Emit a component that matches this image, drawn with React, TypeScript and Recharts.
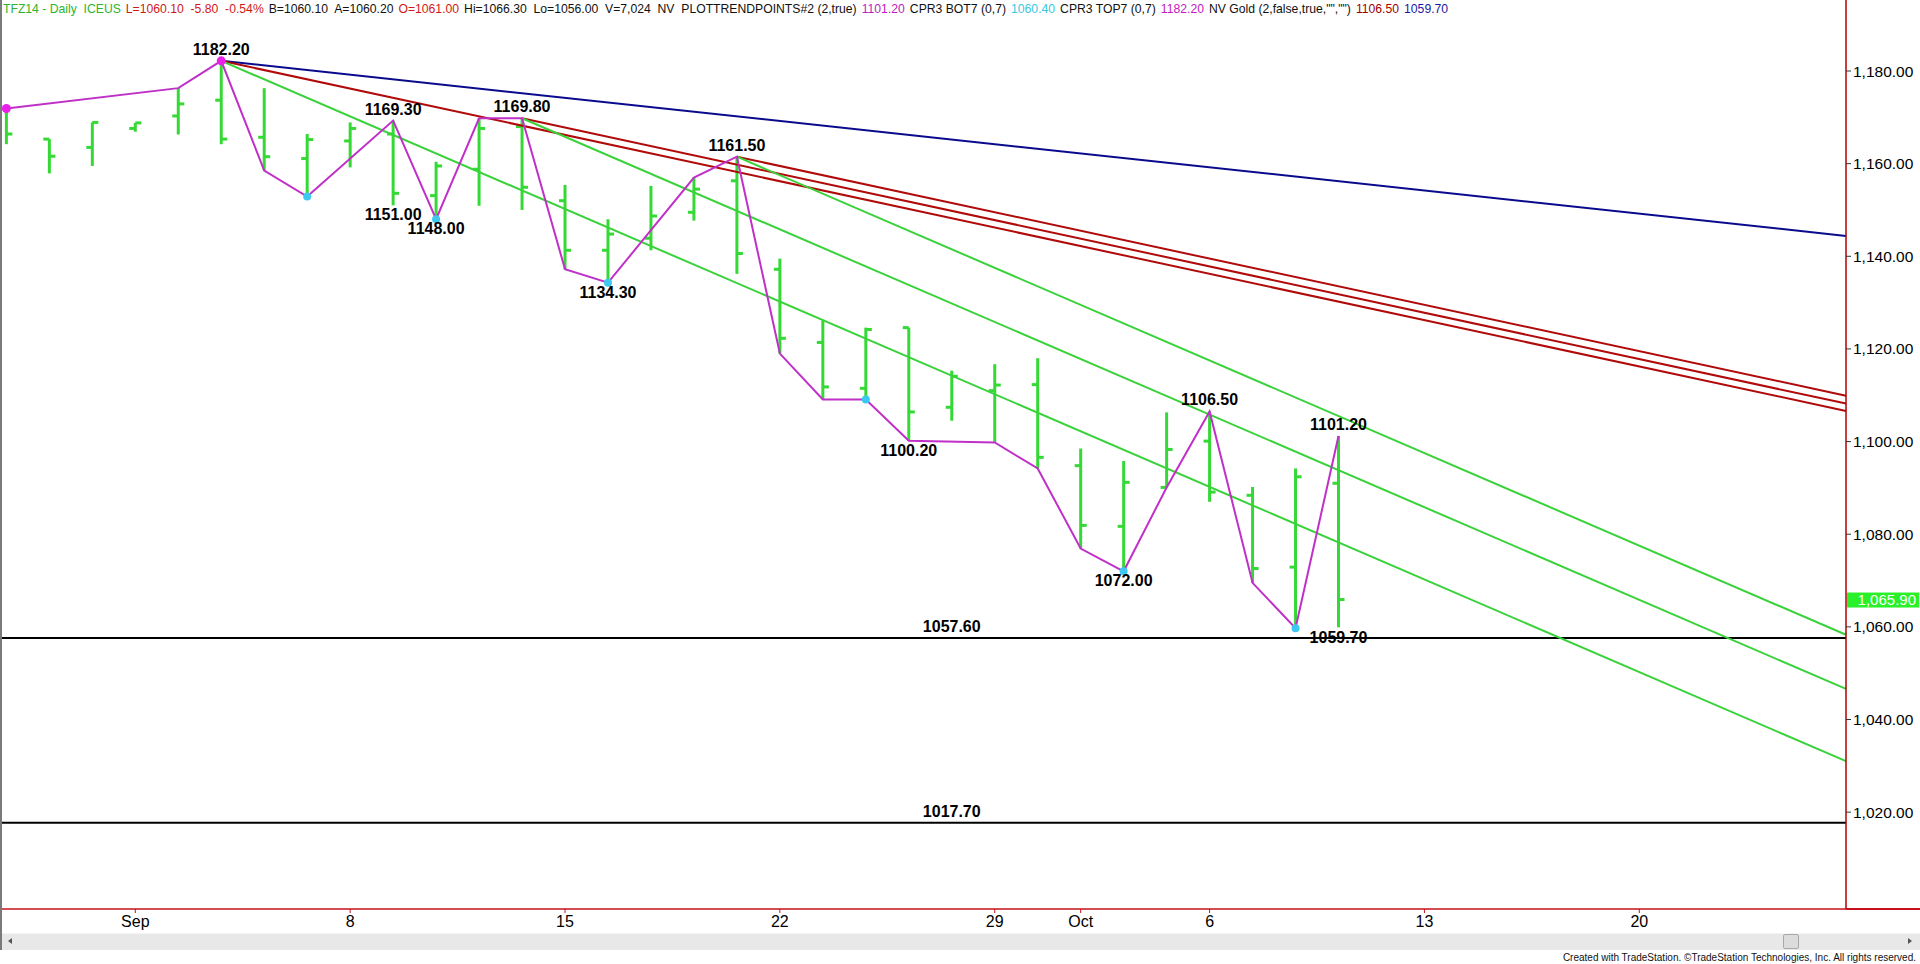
import React from "react";
import { ComposedChart, Line, Scatter, XAxis, YAxis, ReferenceLine, ReferenceDot } from "recharts";

const FONT = '"Liberation Sans", Arial, sans-serif';

// trading days shown as bars
const dates = [
  "Aug 27", "Aug 28", "Aug 29", "Sep 1", "Sep 2", "Sep 3", "Sep 4", "Sep 5",
  "Sep 8", "Sep 9", "Sep 10", "Sep 11", "Sep 12", "Sep 15", "Sep 16", "Sep 17",
  "Sep 18", "Sep 19", "Sep 22", "Sep 23", "Sep 24", "Sep 25", "Sep 26", "Sep 29",
  "Sep 30", "Oct 1", "Oct 2", "Oct 3", "Oct 6", "Oct 7", "Oct 8", "Oct 9",
];
const opens = [
  1171.5, 1165.3, 1163.5, 1167.6, 1170.3, 1173.7, 1165.7, 1161.1, 1164.9, 1166.4, 1153.1,
  1158.8, 1168.0, 1152.0, 1141.3, 1143.9, 1149.5, 1156.3, 1137.2, 1121.4, 1111.5, 1124.6,
  1107.4, 1111.0, 1112.3, 1094.8, 1081.7, 1090.1, 1100.1, 1088.4, 1072.9, 1091.0,
];
const highs = [
  1171.9, 1165.3, 1168.9, 1168.8, 1176.3, 1182.2, 1176.3, 1166.4, 1168.9, 1169.3, 1160.4,
  1169.8, 1169.8, 1155.4, 1148.0, 1155.2, 1157.0, 1161.5, 1139.5, 1126.1, 1124.6, 1124.6,
  1115.3, 1116.7, 1118.0, 1098.5, 1095.8, 1106.3, 1106.5, 1090.2, 1094.2, 1101.2,
];
const lows = [
  1164.2, 1157.9, 1159.5, 1166.9, 1166.3, 1164.2, 1158.5, 1152.9, 1159.2, 1151.0, 1148.0,
  1150.9, 1150.0, 1137.2, 1134.3, 1141.3, 1147.7, 1136.2, 1119.0, 1109.1, 1109.1, 1100.2,
  1104.5, 1099.8, 1094.2, 1076.9, 1072.0, 1090.1, 1087.0, 1069.5, 1059.7, 1059.9,
];
const closes = [
  1166.4, 1161.6, 1168.9, 1168.8, 1172.9, 1165.3, 1161.5, 1165.2, 1167.6, 1153.6, 1159.5,
  1167.6, 1154.9, 1141.3, 1144.8, 1148.7, 1154.5, 1140.6, 1122.3, 1111.8, 1124.2, 1106.4,
  1114.1, 1112.2, 1096.6, 1081.9, 1091.2, 1098.3, 1089.1, 1072.6, 1092.4, 1065.9,
];

// x axis labels (bar index -> label)
const tickIdx = [3, 8, 13, 18, 23, 25, 28, 33, 38];
const tickLabels = ["Sep", "8", "15", "22", "29", "Oct", "6", "13", "20"];
const yTicks = [1020, 1040, 1060, 1080, 1100, 1120, 1140, 1160, 1180];

// swing line (PLOTTRENDPOINTS)
const zigIdx = [0, 4, 5, 6, 7, 9, 10, 11, 12, 13, 14, 16, 17, 18, 19, 20, 21, 23, 24, 25, 26, 27, 28, 29, 30, 31];
const zigVal = [
  1171.9, 1176.3, 1182.2, 1158.5, 1152.9, 1169.3, 1148.0, 1169.8, 1169.8, 1137.2, 1134.3,
  1157.0, 1161.5, 1119.0, 1109.1, 1109.1, 1100.2, 1099.8, 1094.2, 1076.9, 1072.0, 1090.1,
  1106.5, 1069.5, 1059.7, 1101.2,
];
const lowDotIdx = [7, 10, 14, 20, 26, 30];
const lowDotVal = [1152.9, 1148.0, 1134.3, 1109.1, 1072.0, 1059.7];
const highDotIdx = [0, 5];
const highDotVal = [1171.9, 1182.2];

// pivot and level labels
const labelIdx = [5, 9, 9, 10, 12, 14, 17, 21, 26, 28, 31, 31, 22, 22];
const labelVal = [1182.2, 1169.3, 1151.0, 1148.0, 1169.8, 1134.3, 1161.5, 1100.2, 1072.0, 1106.5, 1101.2, 1059.7, 1057.6, 1017.7];
const labelPos = ["above", "above", "below", "below", "above", "below", "above", "below", "below", "above", "above", "below", "above", "above"];

// fan lines: start bar, start price, price at the right edge
const X_MIN = -0.102;
const X_END = 42.81;
const blueStart = [5];
const blueFrom = [1182.2];
const blueTo = [1144.4];
const redStart = [5, 12, 17];
const redFrom = [1182.2, 1169.8, 1161.5];
const redTo = [1106.6, 1108.2, 1109.9];
const greenStart = [5, 12, 17];
const greenFrom = [1182.2, 1169.8, 1161.5];
const greenTo = [1031.0, 1046.6, 1058.3];
const levels = [1057.6, 1017.7];
const lastClose = 1065.9;

const bars = dates.map((d, i) => ({ i, d, o: opens[i], h: highs[i], l: lows[i], c: closes[i] }));
const zigData = zigIdx.map((i, k) => ({ i, v: zigVal[k] }));
const lowDots = lowDotIdx.map((i, k) => ({ i, v: lowDotVal[k] }));
const highDots = highDotIdx.map((i, k) => ({ i, v: highDotVal[k] }));
const labels = labelIdx.map((i, k) => ({ i, v: labelVal[k], text: labelVal[k].toFixed(2), pos: labelPos[k] }));

const header = [
  { t: "TFZ14 - Daily  ICEUS", c: "#2db52d" },
  { t: "L=1060.10  -5.80  -0.54%", c: "#d01818" },
  { t: "B=1060.10  A=1060.20", c: "#111" },
  { t: "O=1061.00", c: "#d01818" },
  { t: "Hi=1066.30  Lo=1056.00  V=7,024  NV  PLOTTRENDPOINTS#2 (2,true)", c: "#111" },
  { t: "1101.20", c: "#c020c0" },
  { t: "CPR3 BOT7 (0,7)", c: "#111" },
  { t: "1060.40", c: "#3cc8e0" },
  { t: "CPR3 TOP7 (0,7)", c: "#111" },
  { t: "1182.20", c: "#c020c0" },
  { t: 'NV Gold (2,false,true,"","")', c: "#111" },
  { t: "1106.50", c: "#a00000" },
  { t: "1059.70", c: "#1a1aa0" },
];

const fmtPrice = (v: number) =>
  v.toLocaleString("en-US", { minimumFractionDigits: 2, maximumFractionDigits: 2 });

const GREEN = "#35d935";
const TICK = 0.14;

const renderLabel = (p: any) => (
  <text
    x={p.cx}
    y={p.cy + (p.payload.pos === "below" ? 15 : -6)}
    textAnchor="middle"
    fontFamily={FONT}
    fontSize={16}
    fontWeight="bold"
    fill="#000"
  >
    {p.payload.text}
  </text>
);

const renderPriceTag = (p: any) => (
  <g>
    <rect x={p.cx + 1} y={p.cy - 7} width={72} height={15} fill="#2af02a" />
    <text x={p.cx + 70} y={p.cy + 5.5} textAnchor="end" fontFamily={FONT} fontSize={15} fill="#fff">
      {fmtPrice(lastClose)}
    </text>
  </g>
);

export default function App() {
  return (
    <div style={{ position: "absolute", left: 0, top: 0, width: 1920, height: 964, background: "#fff", overflow: "hidden" }}>
      <ComposedChart width={1920} height={964} data={bars} margin={{ top: 0, right: 0, bottom: 0, left: 2 }}>
        <XAxis
          dataKey="i"
          type="number"
          domain={[X_MIN, X_END]}
          allowDataOverflow
          ticks={tickIdx}
          interval={0}
          tickFormatter={(v) => tickLabels[tickIdx.indexOf(v)] ?? ""}
          height={55}
          tickSize={4}
          tickMargin={3}
          axisLine={{ stroke: "#c8101a", strokeWidth: 1.5 }}
          tickLine={{ stroke: "#c8101a" }}
          tick={{ fill: "#000", fontSize: 16, fontFamily: FONT }}
        />
        <YAxis
          orientation="right"
          type="number"
          domain={[999.09, 1195.33]}
          allowDataOverflow
          ticks={yTicks}
          interval={0}
          width={74}
          tickSize={5}
          tickMargin={2}
          tickFormatter={fmtPrice}
          axisLine={{ stroke: "#b00000", strokeWidth: 1.5 }}
          tickLine={{ stroke: "#333" }}
          tick={{ fill: "#000", fontSize: 15.5, fontFamily: FONT }}
        />

        {bars.map((b) => (
          <ReferenceLine key={"v" + b.i} segment={[{ x: b.i, y: b.l }, { x: b.i, y: b.h }]} stroke={GREEN} strokeWidth={3} />
        ))}
        {bars.map((b) => (
          <ReferenceLine key={"o" + b.i} segment={[{ x: b.i - TICK, y: b.o }, { x: b.i, y: b.o }]} stroke={GREEN} strokeWidth={3} />
        ))}
        {bars.map((b) => (
          <ReferenceLine key={"c" + b.i} segment={[{ x: b.i, y: b.c }, { x: b.i + TICK, y: b.c }]} stroke={GREEN} strokeWidth={3} />
        ))}

        {levels.map((y) => (
          <ReferenceLine key={"lv" + y} y={y} stroke="#000" strokeWidth={2} />
        ))}

        {blueStart.map((s, k) => (
          <ReferenceLine key={"b" + k} segment={[{ x: s, y: blueFrom[k] }, { x: X_END, y: blueTo[k] }]} stroke="#0a0a8c" strokeWidth={2} />
        ))}
        {redStart.map((s, k) => (
          <ReferenceLine key={"r" + k} segment={[{ x: s, y: redFrom[k] }, { x: X_END, y: redTo[k] }]} stroke="#b00a0a" strokeWidth={2} />
        ))}
        {greenStart.map((s, k) => (
          <ReferenceLine key={"g" + k} segment={[{ x: s, y: greenFrom[k] }, { x: X_END, y: greenTo[k] }]} stroke="#3ad23a" strokeWidth={2} />
        ))}

        <Line data={zigData} dataKey="v" type="linear" stroke="#c030c8" strokeWidth={2} dot={false} isAnimationActive={false} />
        <Scatter data={lowDots} dataKey="v" isAnimationActive={false}
          shape={(p: any) => <circle cx={p.cx} cy={p.cy} r={4} fill="#3cc8f0" />} />
        <Scatter data={highDots} dataKey="v" isAnimationActive={false}
          shape={(p: any) => <circle cx={p.cx} cy={p.cy} r={4.5} fill="#e820e8" />} />
        <Scatter data={labels} dataKey="v" isAnimationActive={false} shape={renderLabel} />
        <ReferenceDot x={X_END} y={lastClose} shape={renderPriceTag} />
      </ComposedChart>

      {/* header line, laid out in flow so the parts never collide */}
      <div
        style={{
          position: "absolute", left: 3, top: 1, display: "flex", gap: 5,
          fontFamily: FONT, fontSize: 12.2, lineHeight: "16px", whiteSpace: "pre",
        }}
      >
        {header.map((h) => (
          <span key={h.t} style={{ color: h.c }}>{h.t}</span>
        ))}
      </div>

      {/* window chrome: left border, axis line past the scale, scrollbar, credit */}
      <div style={{ position: "absolute", left: 0, top: 0, width: 2, height: 950, background: "#7a7a7a" }} />
      <div style={{ position: "absolute", left: 1846, top: 908, width: 74, height: 1.5, background: "#c8101a" }} />
      <div style={{ position: "absolute", left: 2, top: 933, width: 1918, height: 16, background: "#e8e8e8", borderTop: "1px solid #f4f4f4" }} />
      <div style={{ position: "absolute", left: 1783, top: 934, width: 14, height: 13, background: "#dcdcdc", border: "1px solid #a8a8a8", borderRadius: 2 }} />
      <svg width={1920} height={964} style={{ position: "absolute", left: 0, top: 0, pointerEvents: "none" }}>
        <polygon points="8,941 12,938 12,944" fill="#555" />
        <polygon points="1912,941 1908,938 1908,944" fill="#555" />
        <text x={1916} y={961} textAnchor="end" fontFamily={FONT} fontSize={10} fill="#111">
          Created with TradeStation. ©TradeStation Technologies, Inc. All rights reserved.
        </text>
      </svg>
    </div>
  );
}
